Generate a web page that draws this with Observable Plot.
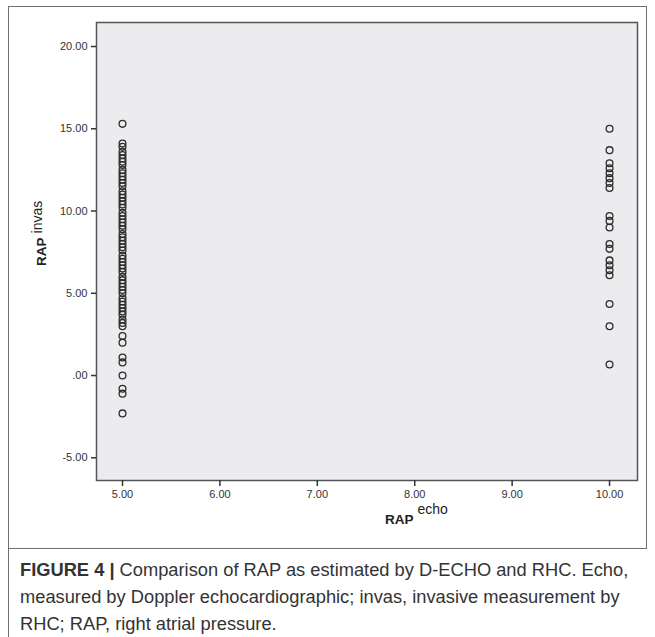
<!DOCTYPE html>
<html>
<head>
<meta charset="utf-8">
<script src="https://cdn.jsdelivr.net/npm/d3@7"></script>
<script src="https://cdn.jsdelivr.net/npm/@observablehq/plot@0.6"></script>
<style>
  html, body { margin: 0; padding: 0; background: #fff; }
  body { width: 655px; height: 637px; position: relative; overflow: hidden; font-family: "Liberation Sans", Arial, sans-serif; }
  #leftline { position: absolute; left: 8px; top: 6px; width: 0; height: 631px; border-left: 1px solid #6f6f6f; }
  #box { position: absolute; left: 8px; top: 6px; width: 638px; height: 541px; border-top: 1px solid #6f6f6f; border-right: 1px solid #6f6f6f; border-bottom: 1px solid #6f6f6f; }
  #chart { position: absolute; left: 0; top: 0; }
  #caption { position: absolute; left: 20px; top: 556px; width: 625px; font-size: 18.3px; line-height: 27px; color: #333; }
  #caption div { white-space: nowrap; }
  #caption b { font-weight: bold; }
</style>
</head>
<body>
<div id="box"></div>
<div id="leftline"></div>
<div id="chart"></div>
<div id="caption">
  <div><b>FIGURE 4 |</b><span> Comparison of RAP as estimated by D-ECHO and RHC. Echo,</span></div>
  <div>measured by Doppler echocardiographic; invas, invasive measurement by</div>
  <div>RHC; RAP, right atrial pressure.</div>
</div>
<script>
// RAP echo = 5.00 group (invasive RAP values)
const rapEcho5 = [
  15.3, 14.1, 13.9, 13.6, 13.4, 13.2, 13.0, 12.8, 12.5, 12.3, 12.1, 11.9, 11.7, 11.5,
  11.2, 11.0, 10.8, 10.6, 10.4, 10.2, 9.9, 9.7, 9.5, 9.3, 9.1, 8.9, 8.6, 8.4, 8.2,
  8.0, 7.8, 7.6, 7.3, 7.1, 6.9, 6.7, 6.5, 6.3, 6.0, 5.8, 5.6, 5.4, 5.2, 5.0, 4.7,
  4.5, 4.3, 4.1, 3.9, 3.7, 3.4, 3.2, 3.0, 2.4, 2.0, 1.1, 0.8, 0.0, -0.8, -1.1, -2.3
];
// RAP echo = 10.00 group (invasive RAP values)
const rapEcho10 = [
  15.0, 13.7, 12.9, 12.6, 12.3, 12.0, 11.7, 11.4, 9.7, 9.4, 9.0, 8.0, 7.7,
  7.0, 6.7, 6.4, 6.1, 4.35, 3.0, 0.67
];
const echoLevels = [5, 10];
const xTicks = [5, 6, 7, 8, 9, 10];
const yTicks = [-5, 0, 5, 10, 15, 20];

const data = [
  ...rapEcho5.map(v => ({echo: echoLevels[0], invas: v})),
  ...rapEcho10.map(v => ({echo: echoLevels[1], invas: v}))
];

const fmt = d => d === 0 ? ".00" : d.toFixed(2);

const plot = Plot.plot({
  width: 655,
  height: 548,
  marginLeft: 96,
  marginRight: 18,
  marginTop: 22,
  marginBottom: 68,
  style: {background: "transparent", color: "#333", fontFamily: "'Liberation Sans', Arial, sans-serif", fontSize: "11px"},
  x: {domain: [4.733, 10.287]},
  y: {domain: [-6.38, 21.46]},
  marks: [
    Plot.frame({fill: "#ececee", stroke: "none"}),
    Plot.dot(data, {x: "echo", y: "invas", r: 3.4, stroke: "#2c2c2c", strokeWidth: 1.3, fill: "none"}),
    Plot.frame({stroke: "#555", strokeWidth: 1.5}),
    Plot.axisX({ticks: xTicks, tickFormat: fmt, tickSize: 6, tickPadding: 4, label: null, stroke: "#333", strokeWidth: 1.5}),
    Plot.axisY({ticks: yTicks, tickFormat: fmt, tickSize: 5, tickPadding: 4, label: null, stroke: "#333", strokeWidth: 1.5})
  ]
});

const svg = d3.select(plot);
// x axis label
const xl = svg.append("text")
  .attr("x", 385).attr("y", 524)
  .attr("text-anchor", "start")
  .attr("fill", "#222")
  .style("font-family", "'Liberation Sans', Arial, sans-serif");
xl.append("tspan").attr("font-weight", "bold").attr("font-size", 13.5).text("RAP");
xl.append("tspan").attr("font-size", 14).attr("dx", 4).attr("dy", -10).text("echo");

// y axis label
const yl = svg.append("text")
  .attr("transform", "translate(46,266) rotate(-90)")
  .attr("text-anchor", "start")
  .attr("fill", "#222")
  .style("font-family", "'Liberation Sans', Arial, sans-serif");
yl.append("tspan").attr("font-weight", "bold").attr("font-size", 13.5).text("RAP");
yl.append("tspan").attr("font-size", 14).attr("dx", 4).attr("dy", -4).text("invas");

document.getElementById("chart").appendChild(plot);
</script>
</body>
</html>
